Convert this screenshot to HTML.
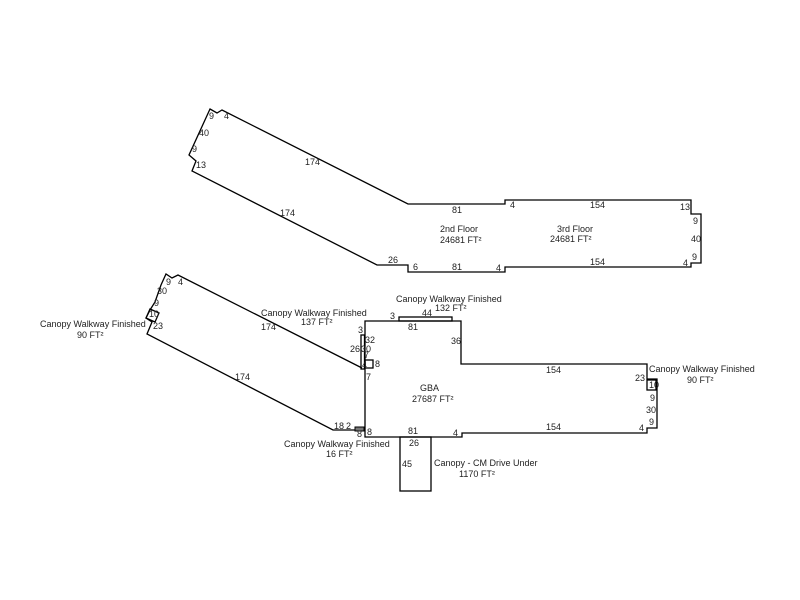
<!DOCTYPE html>
<html><head><meta charset="utf-8"><style>
html,body{margin:0;padding:0;background:#fff;}
svg{display:block;}
text{font-family:"Liberation Sans",sans-serif;font-size:9px;fill:#222;}
</style></head><body>
<svg width="800" height="600" viewBox="0 0 800 600" xmlns="http://www.w3.org/2000/svg">
<g fill="none" stroke="#000" stroke-width="1.3">
<!-- upper building -->
<polygon points="210,109 217,113 222,110 408,204 505,204 505,200 691,200 691,214 701,214 701,263 691,263 691,267 505,267 505,272 408,272 408,265 377,265 192,171 196,161 189,155 210,109"/>
<!-- GBA -->
<polygon points="365,321 461,321 461,364 647,364 647,379 657,379 657,428 647,428 647,433 462,433 462,437 365,437"/>
<rect x="399" y="317" width="53" height="4"/>
<rect x="361" y="335" width="3.5" height="34"/>
<rect x="365" y="360" width="8" height="8"/>
<rect x="647" y="380" width="9" height="10"/>
<rect x="400" y="437" width="31" height="54"/>
<!-- left canopy walkway -->
<polyline points="362,368 178,275 172,278 166,274 161,285 155,302 150,310 146,318 152,322 147,334 333,430 355,430"/>
<polygon points="150,309 159,313 155,322 146,318"/>
</g>
<rect x="355" y="427" width="9" height="4" fill="#777" stroke="#000" stroke-width="1"/>
<!-- upper labels -->
<text x="209" y="119">9</text><text x="224" y="119">4</text>
<text x="199" y="136">40</text><text x="192" y="152">9</text><text x="196" y="168">13</text>
<text x="305" y="165">174</text><text x="280" y="216">174</text>
<text x="388" y="263">26</text><text x="413" y="270">6</text>
<text x="452" y="213">81</text><text x="452" y="270">81</text>
<text x="510" y="208">4</text><text x="496" y="271">4</text>
<text x="590" y="208">154</text><text x="590" y="265">154</text>
<text x="680" y="210">13</text><text x="693" y="224">9</text><text x="691" y="242">40</text>
<text x="692" y="260">9</text><text x="683" y="266">4</text>
<text x="440" y="232">2nd Floor</text><text x="440" y="243">24681 FT²</text>
<text x="557" y="232">3rd Floor</text><text x="550" y="242">24681 FT²</text>
<!-- lower labels -->
<text x="166" y="285">9</text><text x="178" y="285">4</text>
<text x="157" y="294">30</text><text x="154" y="306">9</text><text x="149" y="317">10</text>
<text x="153" y="329">23</text>
<text x="40" y="327">Canopy Walkway Finished</text><text x="77" y="338">90 FT²</text>
<text x="261" y="316">Canopy Walkway Finished</text><text x="301" y="325">137 FT²</text>
<text x="261" y="330">174</text><text x="235" y="380">174</text>
<text x="396" y="302">Canopy Walkway Finished</text><text x="435" y="311">132 FT²</text>
<text x="390" y="319">3</text><text x="422" y="316">44</text><text x="408" y="330">81</text>
<text x="358" y="333">3</text><text x="365" y="343">32</text><text x="350" y="352">26</text>
<text x="361" y="352">30</text><text x="364" y="358">7</text><text x="375" y="367">8</text>
<text x="362" y="368">4</text><text x="366" y="380">7</text>
<text x="451" y="344">36</text>
<text x="420" y="391">GBA</text><text x="412" y="402">27687 FT²</text>
<text x="546" y="373">154</text><text x="546" y="430">154</text>
<text x="635" y="381">23</text><text x="649" y="388">10</text>
<text x="650" y="401">9</text><text x="646" y="413">30</text><text x="649" y="425">9</text>
<text x="639" y="431">4</text>
<text x="649" y="372">Canopy Walkway Finished</text><text x="687" y="383">90 FT²</text>
<text x="334" y="429">18</text><text x="346" y="429">2</text>
<text x="357" y="437">8</text><text x="367" y="435">8</text>
<text x="408" y="434">81</text><text x="453" y="436">4</text>
<text x="409" y="446">26</text><text x="402" y="467">45</text>
<text x="284" y="447">Canopy Walkway Finished</text><text x="326" y="457">16 FT²</text>
<text x="434" y="466">Canopy - CM Drive Under</text><text x="459" y="477">1170 FT²</text>
</svg>
</body></html>
